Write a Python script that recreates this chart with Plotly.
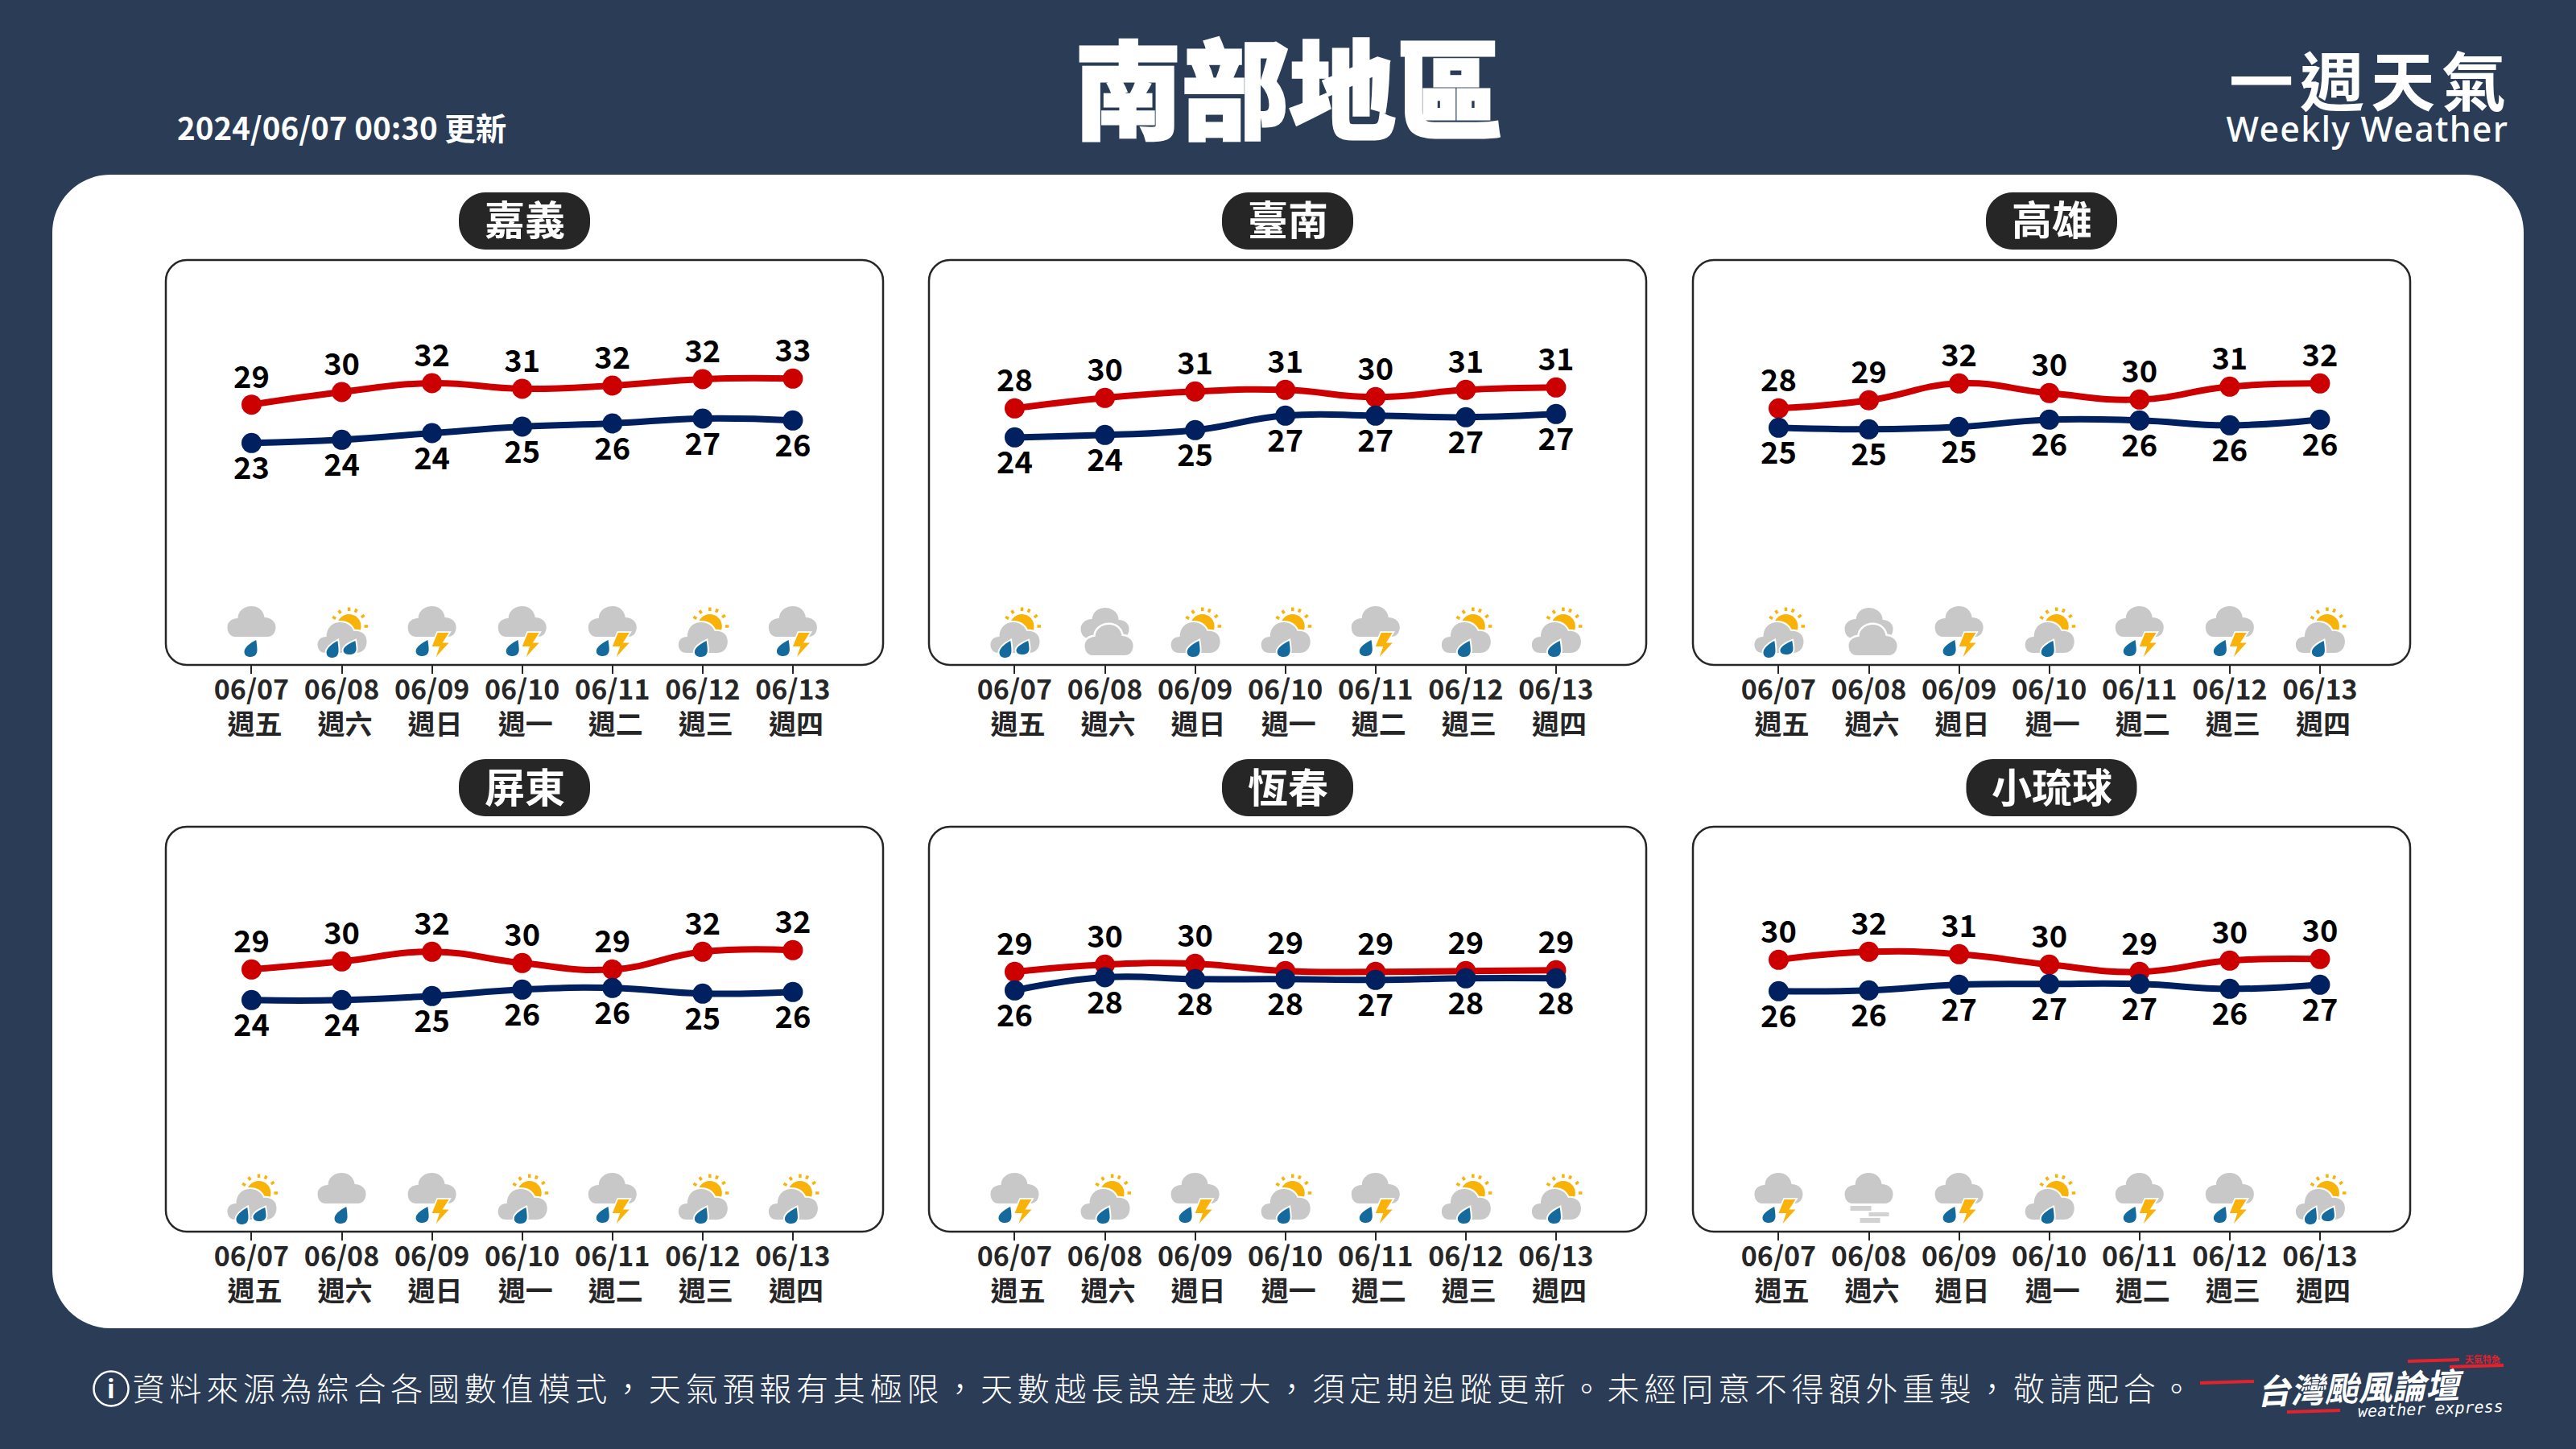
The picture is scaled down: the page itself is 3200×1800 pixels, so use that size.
import math
import plotly.graph_objects as go

# ---------- data ----------
DATES = ["06/07", "06/08", "06/09", "06/10", "06/11", "06/12", "06/13"]
WEEKDAYS = ["週五", "週六", "週日", "週一", "週二", "週三", "週四"]
CITIES = ["嘉義", "臺南", "高雄", "屏東", "恆春", "小琉球"]

CHIAYI_HIGH = [28.96, 30.92, 32.29, 31.42, 31.92, 32.92, 33.0]
CHIAYI_LOW = [23.0, 23.5, 24.54, 25.54, 26.04, 26.79, 26.5]
TAINAN_HIGH = [28.38, 30.0, 31.0, 31.25, 30.13, 31.25, 31.63]
TAINAN_LOW = [23.88, 24.25, 25.0, 27.25, 27.25, 27.0, 27.5]
KAOHSIUNG_HIGH = [28.38, 29.63, 32.25, 30.75, 29.75, 31.75, 32.25]
KAOHSIUNG_LOW = [25.38, 25.13, 25.5, 26.63, 26.5, 25.75, 26.63]
PINGTUNG_HIGH = [29.25, 30.5, 32.0, 30.25, 29.25, 32.0, 32.25]
PINGTUNG_LOW = [24.5, 24.5, 25.13, 26.13, 26.38, 25.5, 25.75]
HENGCHUN_HIGH = [28.88, 30.0, 30.13, 29.0, 28.88, 29.0, 29.13]
HENGCHUN_LOW = [26.0, 28.04, 27.75, 27.75, 27.63, 27.88, 27.88]
LIUQIU_HIGH = [30.75, 32.0, 31.63, 30.0, 28.88, 30.63, 30.88]
LIUQIU_LOW = [25.88, 26.0, 26.88, 27.0, 27.0, 26.25, 26.88]

CHIAYI_HIGH_TXT = [29, 30, 32, 31, 32, 32, 33]
CHIAYI_LOW_TXT = [23, 24, 24, 25, 26, 27, 26]
TAINAN_HIGH_TXT = [28, 30, 31, 31, 30, 31, 31]
TAINAN_LOW_TXT = [24, 24, 25, 27, 27, 27, 27]
KAOHSIUNG_HIGH_TXT = [28, 29, 32, 30, 30, 31, 32]
KAOHSIUNG_LOW_TXT = [25, 25, 25, 26, 26, 26, 26]
PINGTUNG_HIGH_TXT = [29, 30, 32, 30, 29, 32, 32]
PINGTUNG_LOW_TXT = [24, 24, 25, 26, 26, 25, 26]
HENGCHUN_HIGH_TXT = [29, 30, 30, 29, 29, 29, 29]
HENGCHUN_LOW_TXT = [26, 28, 28, 28, 27, 28, 28]
LIUQIU_HIGH_TXT = [30, 32, 31, 30, 29, 30, 30]
LIUQIU_LOW_TXT = [26, 26, 27, 27, 27, 26, 27]

# weather kinds: R rain, T thunder, S1 sun+1 drop, S2 sun+2 drops, CC cloudy, F fog
CHIAYI_WX = ["R", "S2", "T", "T", "T", "S1", "T"]
TAINAN_WX = ["S2", "CC", "S1", "S1", "T", "S1", "S1"]
KAOHSIUNG_WX = ["S2", "CC", "T", "S1", "T", "T", "S1"]
PINGTUNG_WX = ["S2", "R", "T", "S1", "T", "S1", "S1"]
HENGCHUN_WX = ["T", "S1", "T", "S1", "T", "S1", "S1"]
LIUQIU_WX = ["T", "F", "T", "S1", "T", "T", "S2"]

HIGHS = [CHIAYI_HIGH, TAINAN_HIGH, KAOHSIUNG_HIGH, PINGTUNG_HIGH, HENGCHUN_HIGH, LIUQIU_HIGH]
LOWS = [CHIAYI_LOW, TAINAN_LOW, KAOHSIUNG_LOW, PINGTUNG_LOW, HENGCHUN_LOW, LIUQIU_LOW]
HIGH_TXT = [CHIAYI_HIGH_TXT, TAINAN_HIGH_TXT, KAOHSIUNG_HIGH_TXT, PINGTUNG_HIGH_TXT, HENGCHUN_HIGH_TXT, LIUQIU_HIGH_TXT]
LOW_TXT = [CHIAYI_LOW_TXT, TAINAN_LOW_TXT, KAOHSIUNG_LOW_TXT, PINGTUNG_LOW_TXT, HENGCHUN_LOW_TXT, LIUQIU_LOW_TXT]
WX = [CHIAYI_WX, TAINAN_WX, KAOHSIUNG_WX, PINGTUNG_WX, HENGCHUN_WX, LIUQIU_WX]

# ---------- style ----------
W, H = 3200, 1800
BG = "#2A3C56"
INK = "#262626"
RED = "#CC0000"
NAVY = "#002060"
GREY = "#C8C8C8"
SUN = "#F9B208"
DROP = "#146A9C"
FONT = "Noto Sans CJK TC"
PANEL_X = [(206, 1097), (1154, 2045), (2103, 2994)]
PANEL_Y = [(323, 826), (1027, 1530)]
PILL_W = [163, 163, 163, 163, 163, 212]
XRANGE = [-0.95, 7.0]
YRANGE = [-11.46, 51.42]

fx = lambda p: p / W
fy = lambda p: 1 - p / H


def rrect(x0, y0, x1, y1, r):
    k = r * 0.448
    pts = [("M", (x0 + r, y0)), ("L", (x1 - r, y0)),
           ("C", (x1 - k, y0), (x1, y0 + k), (x1, y0 + r)), ("L", (x1, y1 - r)),
           ("C", (x1, y1 - k), (x1 - k, y1), (x1 - r, y1)), ("L", (x0 + r, y1)),
           ("C", (x0 + k, y1), (x0, y1 - k), (x0, y1 - r)), ("L", (x0, y0 + r)),
           ("C", (x0, y0 + k), (x0 + k, y0), (x0 + r, y0))]
    out = []
    for seg in pts:
        out.append(seg[0] + " ".join(f"{fx(a):.6f},{fy(b):.6f}" for a, b in seg[1:]))
    return " ".join(out) + " Z"


def page_shape(path, fill, line=None, lw=0):
    return dict(type="path", xref="paper", yref="paper", path=path, fillcolor=fill, layer="below",
                line=dict(color=line or "rgba(0,0,0,0)", width=lw))


def P(*segs):
    s = []
    for cmd, *nums in segs:
        s.append(cmd + " ".join(f"{nums[i]:.2f},{nums[i+1]:.2f}" for i in range(0, len(nums), 2)))
    return " ".join(s)


def circle(cx, cy, r):
    k = r * 0.5523
    return P(("M", cx + r, cy), ("C", cx + r, cy + k, cx + k, cy + r, cx, cy + r),
             ("C", cx - k, cy + r, cx - r, cy + k, cx - r, cy),
             ("C", cx - r, cy - k, cx - k, cy - r, cx, cy - r),
             ("C", cx + k, cy - r, cx + r, cy - k, cx + r, cy)) + " Z"


def big_cloud(dx=0, dy=0, sx=1):
    t = lambda x, y: (dx + sx * x, dy + y)
    seq = [(-20, 35), (-27, 35), (-30, 41), (-30, 47), (-30, 53), (-25, 58), (-17, 58), (-17, 67), (-9, 73), (0, 73),
           (9, 73), (15, 67), (16, 59), (24, 59), (30, 54), (30, 47), (30, 40), (26, 35), (20, 35)]
    p = [t(*q) for q in seq]
    segs = [("M", *p[0])]
    for i in range(1, len(p), 3):
        segs.append(("C", *p[i], *p[i + 1], *p[i + 2]))
    return P(*segs) + " Z"


def small_cloud(dx=0, dy=0):
    seq = [(-20, 15), (-27, 15), (-30, 20), (-30, 25), (-30, 31), (-26, 35), (-19, 35), (-19, 46), (-12, 53), (-2, 53),
           (6, 53), (12, 49), (15, 42), (24, 43), (31, 38), (31, 29), (31, 21), (26, 15), (18, 15)]
    p = [(x + dx, y + dy) for x, y in seq]
    segs = [("M", *p[0])]
    for i in range(1, len(p), 3):
        segs.append(("C", *p[i], *p[i + 1], *p[i + 2]))
    return P(*segs) + " Z"


def drop(xl, xr, top, bot):
    w, h = xr - xl, top - bot
    tip = xr - 0.08 * w
    return P(("M", tip, top),
             ("C", xl + 0.35 * w, top - 0.22 * h, xl, top - 0.48 * h, xl, top - 0.70 * h),
             ("C", xl, bot + 0.08 * h, xl + 0.25 * w, bot, xl + 0.5 * w, bot),
             ("C", xl + 0.8 * w, bot, xr, bot + 0.15 * h, xr, bot + 0.4 * h),
             ("C", xr, top - 0.35 * h, tip + 0.03 * w, top - 0.15 * h, tip, top)) + " Z"


BOLT = [(7, 40), (21, 40), (13, 27.5), (21, 27.5), (5, 10), (9.5, 23), (0, 23)]
bolt_path = "M" + " L".join(f"{x},{y}" for x, y in BOLT) + " Z"
RAY_ANGLES = [150, 123, 90, 66, 36, 0]
SUN_C = (9, 48)


def rays_path():
    segs = []
    for a in RAY_ANGLES:
        c, s = math.cos(math.radians(a)), math.sin(math.radians(a))
        segs.append(("M", SUN_C[0] + 19 * c, SUN_C[1] + 19 * s))
        segs.append(("L", SUN_C[0] + 23.5 * c, SUN_C[1] + 23.5 * s))
    return P(*segs)


def icon_parts(kind):
    parts = []
    def add(path, fill, line=None, lw=0):
        parts.append((path, fill, line, lw))
    def ringed(path, fill, lw=4):
        parts.append((path, "white", "white", lw))
        parts.append((path, fill, None, 0))
    if kind in ("S1", "S2"):
        add(rays_path(), "rgba(0,0,0,0)", SUN, 3.5)
        add(circle(*SUN_C, 15), SUN)
        ringed(small_cloud(), GREY)
        if kind == "S1":
            ringed(drop(-10, 6, 30, 10), DROP)
        else:
            ringed(drop(-19, -4, 30, 9), DROP)
            ringed(drop(2, 18, 30, 13), DROP)
    elif kind == "R":
        add(big_cloud(), GREY)
        add(drop(-9, 7, 31, 10), DROP)
    elif kind == "T":
        add(big_cloud(), GREY)
        add(drop(-20, -4, 31, 11), DROP)
        ringed(bolt_path, SUN, 3.5)
    elif kind == "CC":
        add(big_cloud(dx=0, dy=-2, sx=-1), GREY)
        ringed(big_cloud(dx=5, dy=-23), GREY, 5)
    elif kind == "F":
        add(big_cloud(), GREY)
        for x0, x1, y0, y1 in [(-23, 3, 26, 32), (0, 25, 19, 24), (-11, 14, 11, 17)]:
            add(P(("M", x0, y0), ("L", x1, y0), ("L", x1, y1), ("L", x0, y1)) + " Z", "#D2D2D2")
    return parts


# ---------- figure ----------
fig = go.Figure()
shapes = [page_shape(rrect(65, 217, 3135, 1650, 72), "white")]
annotations = []


def note(text, x, y, size, color="white", weight=400, style="normal", family=FONT, **kw):
    annotations.append(dict(text=text, x=fx(x), y=fy(y), xref="paper", yref="paper", showarrow=False,
                            xanchor="center", yanchor="middle",
                            font=dict(family=family, size=size, color=color, weight=weight, style=style), **kw))


layout = {}
for n in range(6):
    col, row = n % 3, n // 3
    x0, x1 = PANEL_X[col]
    y0, y1 = PANEL_Y[row]
    cx = (x0 + x1) / 2
    suf = "" if n == 0 else str(n + 1)
    ticktext = [f"{d}<br>{w}" for d, w in zip(DATES, WEEKDAYS)]
    layout[f"xaxis{suf}"] = dict(domain=[fx(x0), fx(x1)], range=XRANGE, anchor=f"y{suf}", showgrid=False,
                                 zeroline=False, showline=False, tickmode="array", tickvals=list(range(7)),
                                 ticktext=ticktext, ticks="outside", ticklen=10, tickwidth=2, tickcolor=INK,
                                 ticklabelstandoff=-9,
                                 tickfont=dict(family=FONT, size=34, color=INK, weight=700), fixedrange=True)
    layout[f"yaxis{suf}"] = dict(domain=[fy(y1), fy(y0)], range=YRANGE, anchor=f"x{suf}", visible=False,
                                 fixedrange=True)
    shapes.append(page_shape(rrect(x0, y0, x1, y1, 26), "white", INK, 2.5))
    pw = PILL_W[n]
    pill_c = y0 - 48.5
    shapes.append(page_shape(rrect(cx - pw / 2, pill_c - 35.5, cx + pw / 2, pill_c + 35.5, 33), INK))
    note(CITIES[n], cx, pill_c - 4, 50, weight=700)
    xs = list(range(7))
    for vals, txt, color, pos, label_marker in [(HIGHS[n], HIGH_TXT[n], RED, "top center", 17),
                                                (LOWS[n], LOW_TXT[n], NAVY, "bottom center", 25)]:
        fig.add_trace(go.Scatter(x=xs, y=vals, xaxis=f"x{suf}", yaxis=f"y{suf}", mode="lines+markers",
                                 line=dict(color=color, width=8, shape="spline", smoothing=1.3),
                                 marker=dict(color=color, size=25),
                                 cliponaxis=False, showlegend=False, hoverinfo="skip"))
        fig.add_trace(go.Scatter(x=xs, y=vals, xaxis=f"x{suf}", yaxis=f"y{suf}", mode="markers+text",
                                 marker=dict(color=color, size=label_marker, opacity=0),
                                 text=[str(t) for t in txt], textposition=pos,
                                 textfont=dict(family=FONT, size=38, color="black", weight=700),
                                 cliponaxis=False, showlegend=False, hoverinfo="skip"))
    for i, kind in enumerate(WX[n]):
        for path, fill, line, lw in icon_parts(kind):
            shapes.append(dict(type="path", xref=f"x{suf}", yref=f"y{suf}", xsizemode="pixel", ysizemode="pixel",
                               xanchor=i, yanchor=YRANGE[0], path=path, fillcolor=fill,
                               line=dict(color=line or "rgba(0,0,0,0)", width=lw)))

# header texts
note("南部地區", 1601, 104, 133, weight=900)
note("2024/06/07 00:30 更新", 424, 157, 38.5, weight=700)
note("一週天氣", 2945, 96, 80, weight=700)
note("Weekly Weather", 2941, 159, 43, family="Noto Sans", weight=500)

# footer
FOOT = "資料來源為綜合各國數值模式，天氣預報有其極限，天數越長誤差越大，須定期追蹤更新。未經同意不得額外重製，敬請配合。"
note(FOOT, 1447, 1723, 40, weight=300)
k = 21.5
shapes.append(dict(type="circle", xref="paper", yref="paper", x0=fx(138 - k), x1=fx(138 + k), y0=fy(1725 + k),
                   y1=fy(1725 - k), line=dict(color="white", width=2.5), fillcolor="rgba(0,0,0,0)"))
note("i", 138, 1724, 32, weight=700, family="Noto Sans")

# logo
LOGO_RED = "#E2232E"
for xa, ya, xb, yb in [(2733, 1718, 2800, 1716), (2841, 1754, 2907, 1752), (2991, 1691, 3055, 1689), (3043, 1698, 3110, 1696)]:
    shapes.append(dict(type="line", xref="paper", yref="paper", x0=fx(xa), y0=fy(ya), x1=fx(xb), y1=fy(yb),
                       line=dict(color=LOGO_RED, width=4)))
note("天氣特急", 3084, 1688, 11, color=LOGO_RED, weight=700)
note("台灣颱風論壇", 2932, 1721, 42, weight=700, style="italic", textangle=-2)
note("weather express", 3019, 1750, 20, style="italic", family="DejaVu Sans Mono", textangle=-2)

fig.update_layout(width=W, height=H, margin=dict(l=0, r=0, t=0, b=0), paper_bgcolor=BG, plot_bgcolor="rgba(0,0,0,0)",
                  shapes=shapes, annotations=annotations, showlegend=False, **layout)

POST = """
document.body.style.margin='0';document.body.style.overflow='hidden';
var sp={'資料':'5.8px','一週':'8px','Weekl':'1.2px'};
document.querySelectorAll('text').forEach(function(t){
  for(var k in sp){ if(t.textContent.indexOf(k)===0){ t.style.letterSpacing=sp[k]; } }
  if(t.textContent.indexOf('南部')===0){ t.style.stroke='white'; t.style.strokeWidth='3px'; }
  var ls=t.querySelectorAll('tspan.line');
  if(ls.length>1 && t.textContent.indexOf('/')===2){ ls[1].setAttribute('dy','1.27em'); ls[1].setAttribute('dx','4'); }
});
"""
fig.write_html("out.html", config={"displayModeBar": False}, post_script=POST)
